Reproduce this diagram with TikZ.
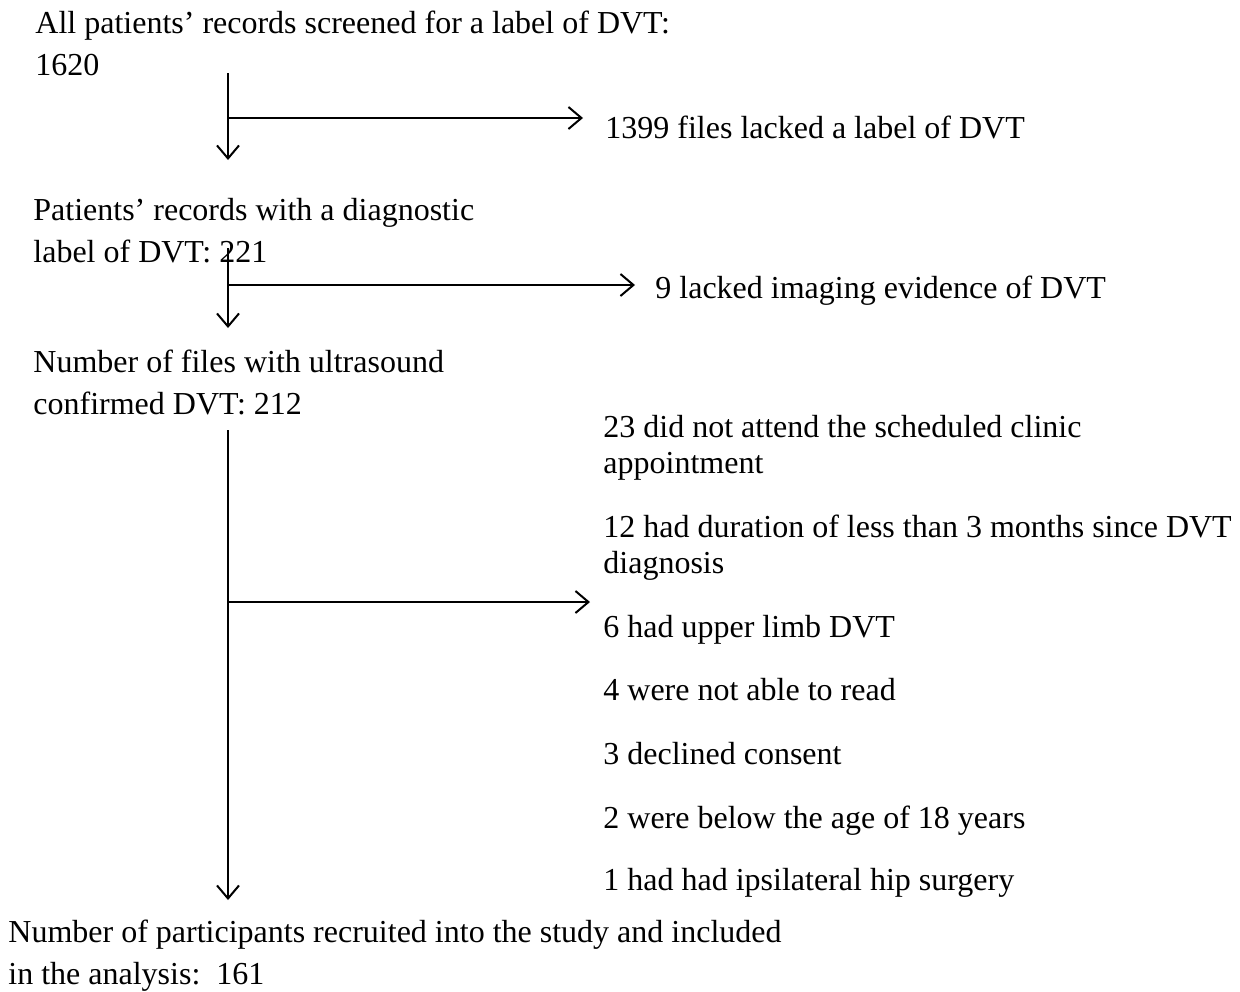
\documentclass[tikz,border=0pt]{standalone}
\usepackage{fontspec}
\setmainfont{Liberation Serif}
\usetikzlibrary{arrows.meta, positioning}

\begin{document}
\begin{tikzpicture}[
    x=0.5pt, y=-0.5pt,
    stage/.style={anchor=base west, align=left, inner sep=0pt, font=\fontsize{16}{21}\selectfont},
    reason/.style={anchor=base west, align=left, inner sep=0pt, font=\fontsize{16}{18}\selectfont},
    arr/.style={-{Straight Barb[length=6.5pt, width=11pt]}, line width=1pt}
]
\useasboundingbox (0,0) rectangle (1240,991);

% stages (anchored at the baseline of the last line)
\node[stage] (screened) at (35,75) {All patients’ records screened for a label of DVT:\\1620};
\node[reason] (nolabel) at (605,138) {1399 files lacked a label of DVT};
\node[stage] (diag) at (33,262) {Patients’ records with a diagnostic\\label of DVT: 221};
\node[reason] (noimg) at (655,298) {9 lacked imaging evidence of DVT};
\node[stage] (confirmed) at (33,414) {Number of files with ultrasound\\confirmed DVT: 212};

% exclusions
\node[reason] (r23) at (603,473) {23 did not attend the scheduled clinic\\appointment};
\node[reason] (r12) at (603,573) {12 had duration of less than 3 months since DVT\\diagnosis};
\node[reason] (r6) at (603,637) {6 had upper limb DVT};
\node[reason] (r4) at (603,700) {4 were not able to read};
\node[reason] (r3) at (603,764) {3 declined consent};
\node[reason] (r2) at (603,828) {2 were below the age of 18 years};
\node[reason] (r1) at (603,890) {1 had had ipsilateral hip surgery};

\node[stage] (recruited) at (8,984) {Number of participants recruited into the study and included\\in the analysis:\ \ 161};

% main spine
\coordinate (top1) at (228,73);
\coordinate (bot1) at (228,160);
\coordinate (br1) at (228,118);
\coordinate (top2) at (228,248);
\coordinate (bot2) at (228,328);
\coordinate (br2) at (228,285);
\coordinate (top3) at (228,430);
\coordinate (bot3) at (228,900);
\coordinate (br3) at (228,602);

\draw[arr] (top1) -- (bot1);
\draw[arr] (br1) -- ([xshift=-11pt]nolabel.west |- br1);
\draw[arr] (top2) -- (bot2);
\draw[arr] (br2) -- ([xshift=-10pt]noimg.west |- br2);
\draw[arr] (top3) -- (bot3);
\draw[arr] (br3) -- ([xshift=-6.5pt]r6.west |- br3);

\end{tikzpicture}
\end{document}
